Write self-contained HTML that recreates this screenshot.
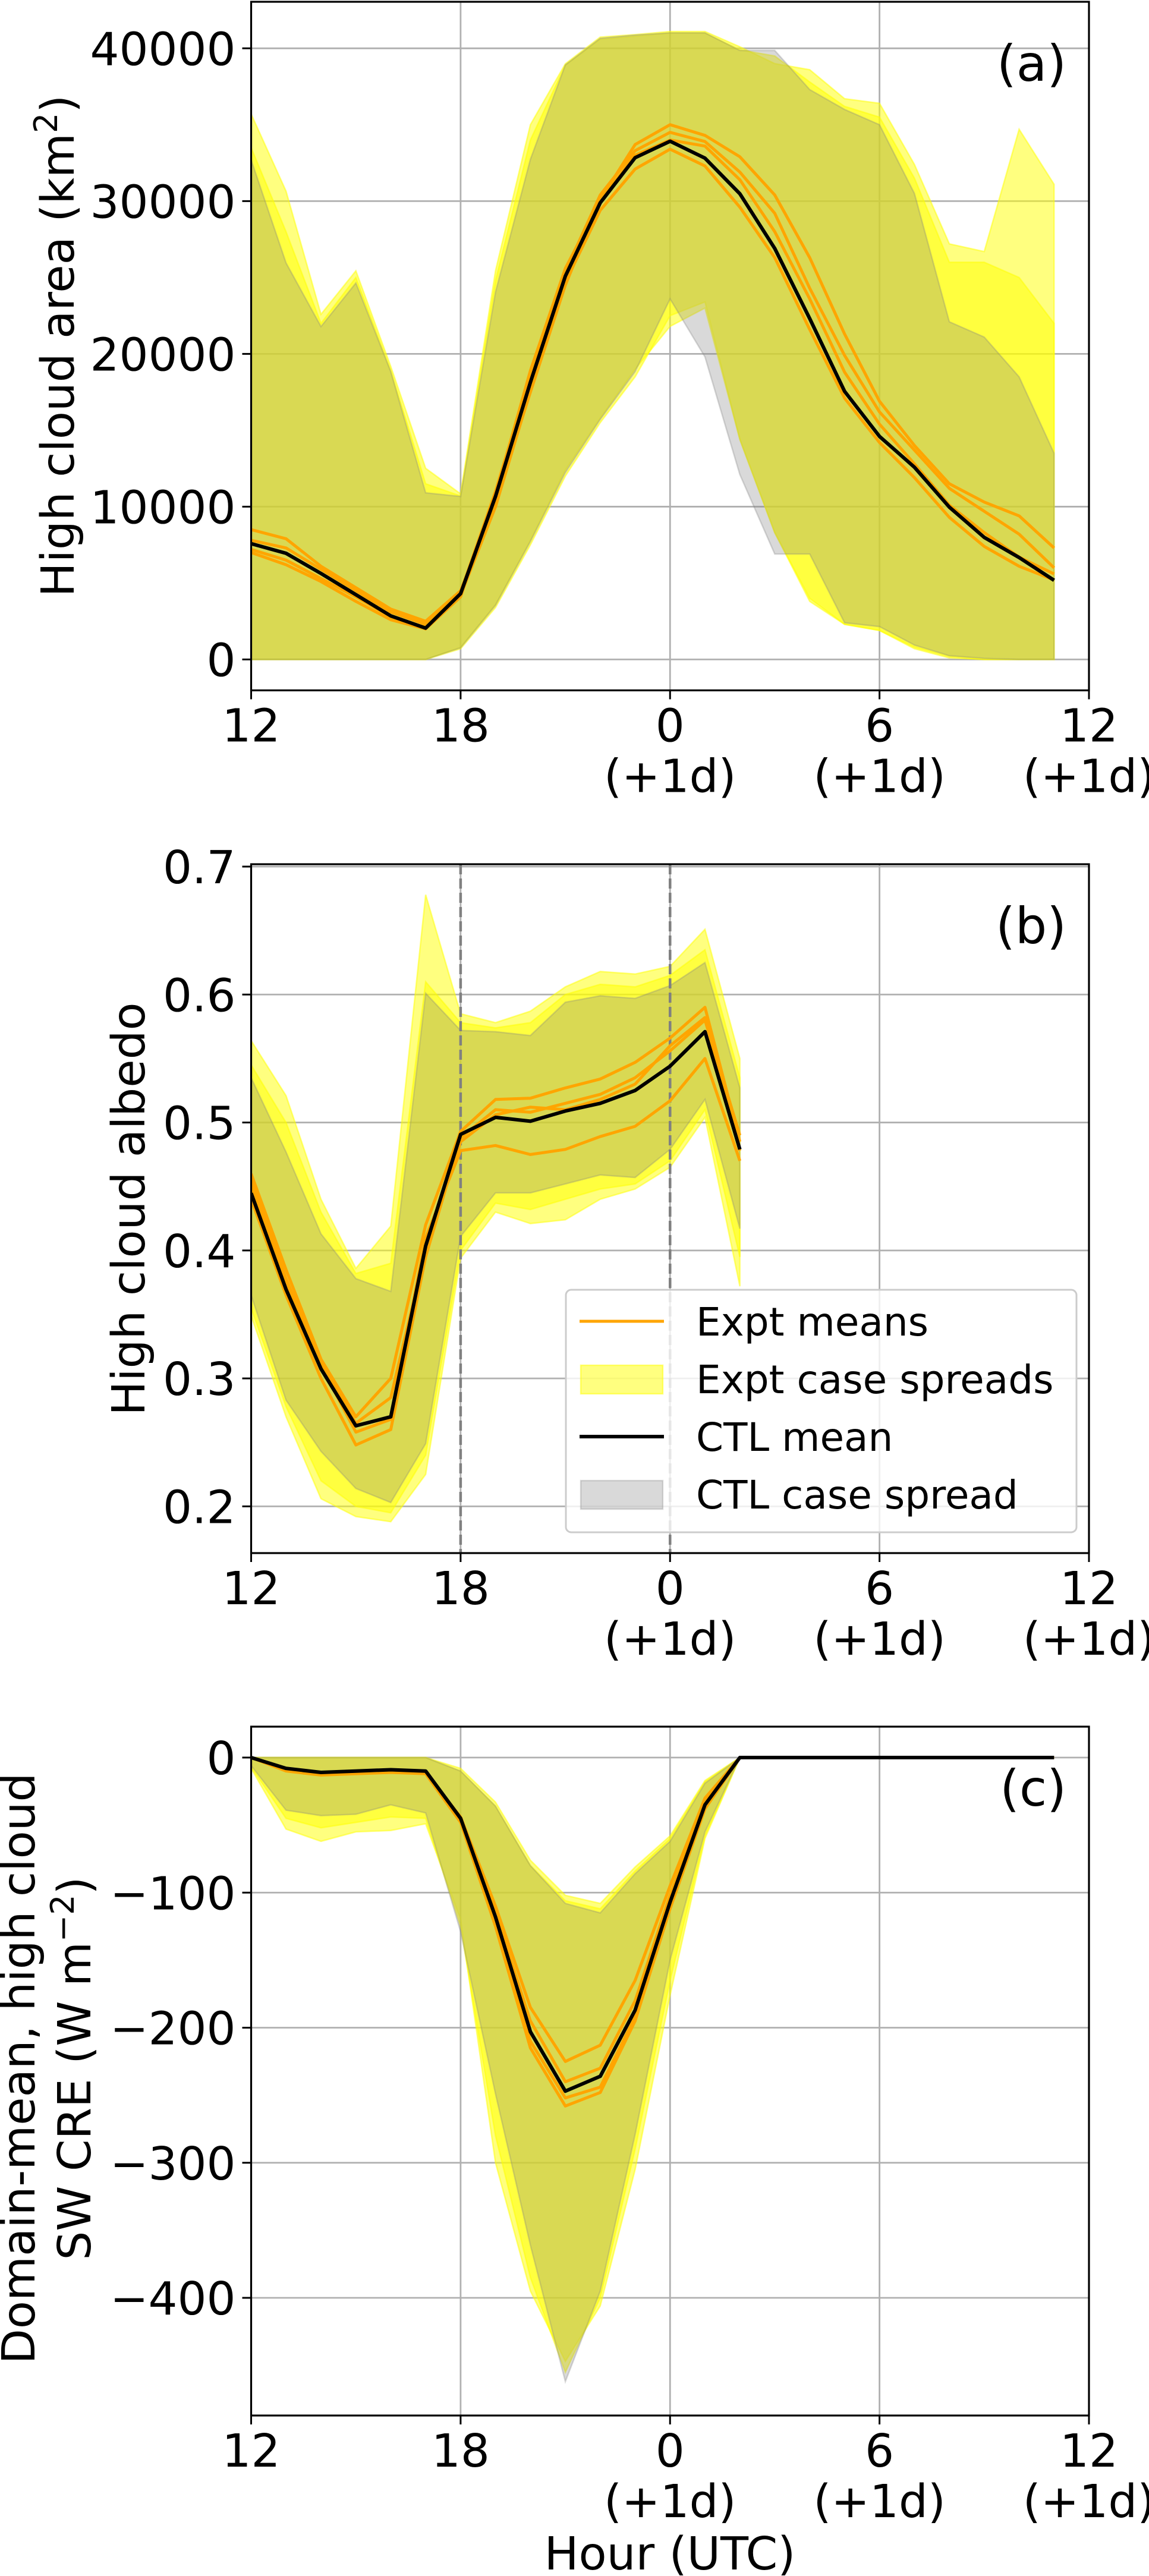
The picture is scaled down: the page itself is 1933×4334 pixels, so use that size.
<!DOCTYPE html>
<html><head><meta charset="utf-8"><style>
html,body{margin:0;padding:0;background:#fff}
svg{display:block}
text{font-family:"DejaVu Sans","Liberation Sans",sans-serif;fill:#000}
</style></head><body>
<svg id="fig" width="1933" height="4334" viewBox="0 0 1933 4334" xmlns="http://www.w3.org/2000/svg"></svg>
<script>
// ---------- data ----------
const hoursA = [12,13,14,15,16,17,18,19,20,21,22,23,24,25,26,27,28,29,30,31,32,33,34,35];
const hoursB = [12,13,14,15,16,17,18,19,20,21,22,23,24,25,26];
const xTickVals = [12,18,24,30,36];
const xTickLine1 = ["12","18","0","6","12"];
const xTickLine2 = ["","","(+1d)","(+1d)","(+1d)"];

const aCtlMean = [7580,6950,5630,4240,2850,2050,4310,10670,18140,25090,29890,32840,33920,32810,30480,26900,22310,17550,14600,12580,9970,7990,6670,5180];
const aCtlHi = [32700,25960,21790,24640,18840,10910,10670,24050,32740,38920,40660,40870,41010,41010,39860,39860,37300,36000,35000,30500,22100,21100,18500,13500];
const aCtlLo = [0,0,0,0,0,0,760,3540,7710,12230,15710,18840,23600,19800,12100,6900,6900,2400,2150,940,240,70,0,0];
const aE1Hi = [35700,30650,22590,25440,19180,12510,10840,25440,35000,38990,40730,40900,41100,41100,40100,39000,38600,36700,36400,32400,27200,26700,34700,31100];
const aE1Lo = [0,0,0,0,0,0,700,3400,7500,12000,15500,18500,22500,23400,14400,8300,4000,2300,1900,700,100,0,0,0];
const aE2Hi = [33500,28000,22000,25000,18900,11500,10700,24800,34000,38900,40600,40800,41000,41000,39900,39500,37800,36200,35500,31500,26000,26000,25000,22000];
const aE2Lo = [0,0,0,0,0,0,800,3600,7800,12400,15800,19000,21800,23000,14400,8300,3800,2300,1900,800,200,0,0,0];
const aO1 = [8500,7900,6100,4700,3300,2500,4500,10300,17500,24500,30100,33700,35000,34300,32900,30400,26300,21300,16900,14000,11500,10300,9400,7300];
const aO2 = [7800,7300,5900,4500,3100,2300,4400,11000,18600,25400,30400,33300,34500,33900,31900,29200,24300,19900,16200,13700,11200,9700,8200,6000];
const aO3 = [7200,6500,5300,4100,2800,2100,4200,10000,17600,24700,29400,32100,33400,32300,29600,26300,21600,17100,14200,11900,9300,7400,6100,5200];
const aO4 = [7000,6200,5100,3800,2600,2000,4100,10800,18900,25600,30000,33000,34000,33600,31400,28000,23600,18800,15400,12800,10100,8300,6700,5600];
const aYTicks = [0,10000,20000,30000,40000];
const aYTickLabels = ["0","10000","20000","30000","40000"];

const bCtlMean = [0.4448,0.3696,0.3075,0.263,0.270,0.4035,0.4907,0.504,0.501,0.509,0.515,0.525,0.544,0.571,0.479];
const bCtlHi = [0.535,0.477,0.413,0.378,0.368,0.601,0.572,0.571,0.568,0.594,0.599,0.597,0.607,0.625,0.527];
const bCtlLo = [0.365,0.283,0.243,0.214,0.203,0.249,0.411,0.445,0.445,0.452,0.459,0.457,0.479,0.518,0.417];
const bE1Hi = [0.564,0.521,0.440,0.386,0.419,0.678,0.585,0.578,0.587,0.606,0.618,0.616,0.622,0.651,0.550];
const bE1Lo = [0.349,0.270,0.206,0.192,0.188,0.225,0.394,0.430,0.421,0.424,0.440,0.448,0.465,0.504,0.372];
const bE2Hi = [0.545,0.500,0.430,0.382,0.390,0.610,0.578,0.574,0.578,0.600,0.608,0.606,0.615,0.635,0.535];
const bE2Lo = [0.355,0.278,0.220,0.200,0.195,0.240,0.400,0.437,0.432,0.440,0.448,0.452,0.470,0.510,0.395];
const bO1 = [0.460,0.385,0.315,0.270,0.300,0.420,0.493,0.518,0.519,0.527,0.534,0.547,0.566,0.590,0.485];
const bO2 = [0.450,0.372,0.310,0.258,0.268,0.410,0.478,0.482,0.475,0.479,0.489,0.497,0.517,0.550,0.470];
const bO3 = [0.440,0.365,0.300,0.248,0.260,0.395,0.488,0.510,0.508,0.515,0.522,0.535,0.556,0.580,0.490];
const bO4 = [0.455,0.378,0.312,0.265,0.285,0.400,0.485,0.506,0.512,0.510,0.518,0.530,0.560,0.582,0.478];
const bYTicks = [0.2,0.3,0.4,0.5,0.6,0.7];
const bYTickLabels = ["0.2","0.3","0.4","0.5","0.6","0.7"];
const bDashedHours = [18,24];

const cCtlMean = [0,-8,-11,-10,-9,-10,-45,-118,-203,-247,-236,-187,-107,-35,0,0,0,0,0,0,0,0,0,0];
const cCtlHi = [0,0,0,0,0,0,-10,-36,-80,-108,-115,-86,-62,-19,0,0,0,0,0,0,0,0,0,0];
const cCtlLo = [-6,-39,-43,-42,-35,-41,-129,-249,-361,-462,-395,-279,-150,-55,0,0,0,0,0,0,0,0,0,0];
const cE1Hi = [0,0,0,0,0,0,-8,-33,-76,-102,-108,-81,-58,-17,0,0,0,0,0,0,0,0,0,0];
const cE1Lo = [-8,-53,-62,-55,-54,-49,-120,-300,-395,-447,-406,-305,-176,-60,0,0,0,0,0,0,0,0,0,0];
const cE2Hi = [0,0,0,0,0,0,-10,-36,-80,-106,-112,-84,-60,-18,0,0,0,0,0,0,0,0,0,0];
const cE2Lo = [-7,-45,-52,-48,-44,-45,-125,-280,-385,-455,-400,-290,-165,-58,0,0,0,0,0,0,0,0,0,0];
const cO1 = [0,-10,-13,-12,-11,-12,-48,-125,-215,-258,-248,-195,-112,-38,0,0,0,0,0,0,0,0,0,0];
const cO2 = [0,-9,-12,-11,-10,-11,-44,-110,-185,-225,-213,-165,-95,-30,0,0,0,0,0,0,0,0,0,0];
const cO3 = [0,-9,-12,-11,-10,-11,-46,-120,-210,-252,-244,-192,-110,-36,0,0,0,0,0,0,0,0,0,0];
const cO4 = [0,-8,-11,-10,-9,-10,-45,-115,-195,-240,-230,-180,-102,-33,0,0,0,0,0,0,0,0,0,0];
const cYTicks = [-400,-300,-200,-100,0];
const cYTickLabels = ["\u2212400","\u2212300","\u2212200","\u2212100","0"];

// ---------- drawing ----------
const NS = "http://www.w3.org/2000/svg";
const svg = document.getElementById('fig');
function mk(tag, attrs, parent){
  const e = document.createElementNS(NS, tag);
  for (const k in attrs) e.setAttribute(k, attrs[k]);
  (parent||svg).appendChild(e);
  return e;
}
const L = 422.5, R = 1832;
function xs(h){ return L + (h-12)*(R-L)/24; }

function panel(cfg){
  const g = mk('g', {});
  
  
  const ys = v => cfg.y0px + (v-cfg.y0)*(cfg.y1px-cfg.y0px)/(cfg.y1-cfg.y0);
  const clipId = 'clip-'+cfg.name;
  const cp = mk('clipPath', {id:clipId}, g);
  mk('rect', {x:L, y:cfg.top, width:R-L, height:cfg.bottom-cfg.top}, cp);
  const grid = mk('g', {stroke:'#b0b0b0','stroke-width':2.8}, g);
  
  
  xTickVals.forEach(h => mk('line', {x1:xs(h), x2:xs(h), y1:cfg.top, y2:cfg.bottom}, grid));
  cfg.yTicks.forEach(v => mk('line', {x1:L, x2:R, y1:ys(v), y2:ys(v)}, grid));
  const plot = mk('g', {'clip-path':'url(#'+clipId+')'}, g);
  function band(hours, lo, hi, fill, op, stroke, name){
    let d = '';
    hours.forEach((h,i)=>{ d += (i?'L':'M') + xs(h).toFixed(1) + ',' + ys(hi[i]).toFixed(1); });
    for (let i=hours.length-1;i>=0;i--) d += 'L' + xs(hours[i]).toFixed(1) + ',' + ys(lo[i]).toFixed(1);
    d += 'Z';
    const p = mk('path', {d:d, fill:fill, 'fill-opacity':op, stroke:stroke, 'stroke-opacity':op, 'stroke-width':2.5}, plot);
    
    
  }
  function line(hours, vals, color, w, name){
    const pts = hours.map((h,i)=> xs(h).toFixed(1)+','+ys(vals[i]).toFixed(1)).join(' ');
    const p = mk('polyline', {points:pts, fill:'none', stroke:color, 'stroke-width':w, 'stroke-linejoin':'round'}, plot);
    
    
  }
  cfg.expBands.forEach((b,i)=> band(cfg.hours, b[0], b[1], '#ffff00', 0.5, '#ffff00', 'expt-spread-'+(i+1)));
  band(cfg.hours, cfg.ctlLo, cfg.ctlHi, '#808080', 0.3, '#808080', 'ctl-spread');
  if (cfg.dashed){
    cfg.dashed.forEach(h=>{
      const dl = mk('line', {x1:xs(h), x2:xs(h), y1:cfg.top, y2:cfg.bottom, stroke:'#808080', 'stroke-width':4.5, 'stroke-dasharray':'17,7'}, plot);
      
      
    });
  }
  cfg.expLines.forEach((v,i)=> line(cfg.hours, v, '#ffa500', 5, 'expt-mean-'+(i+1)));
  line(cfg.hours, cfg.ctlMean, '#000000', 6, 'ctl-mean-line');
  const sp = mk('rect', {x:L, y:cfg.top, width:R-L, height:cfg.bottom-cfg.top, fill:'none', stroke:'#000', 'stroke-width':3.2}, g);
  
  
  xTickVals.forEach((h,i)=>{
    mk('line', {x1:xs(h), x2:xs(h), y1:cfg.bottom, y2:cfg.bottom+15, stroke:'#000','stroke-width':3}, g);
    const t = mk('text', {x:xs(h), y:cfg.bottom+86, 'text-anchor':'middle', 'font-size':77}, g);
    
    
    t.textContent = xTickLine1[i];
    if (xTickLine2[i]){
      const t2 = mk('text', {x:xs(h), y:cfg.bottom+171, 'text-anchor':'middle', 'font-size':77}, g);
      
      
      t2.textContent = xTickLine2[i];
    }
  });
  cfg.yTicks.forEach((v,i)=>{
    mk('line', {x1:L-15, x2:L, y1:ys(v), y2:ys(v), stroke:'#000','stroke-width':3}, g);
    const t = mk('text', {x:L-26, y:ys(v)+28, 'text-anchor':'end', 'font-size':77}, g);
    
    
    t.textContent = cfg.yTickLabels[i];
  });
  const pl = mk('text', {x:1794, y:cfg.top+133, 'text-anchor':'end', 'font-size':84}, g);
  
  
  pl.textContent = cfg.letter;
  return g;
}

panel({name:'panel-a', letter:'(a)', top:3, bottom:1161.5, y0:0, y1:40000, y0px:1109.5, y1px:81.3,
  hours:hoursA, yTicks:aYTicks, yTickLabels:aYTickLabels, ctlMean:aCtlMean, ctlLo:aCtlLo, ctlHi:aCtlHi,
  expBands:[[aE1Lo,aE1Hi],[aE2Lo,aE2Hi]], expLines:[aO1,aO2,aO3,aO4]});
panel({name:'panel-b', letter:'(b)', top:1454, bottom:2613, y0:0.2, y1:0.7, y0px:2534.4, y1px:1458,
  hours:hoursB, yTicks:bYTicks, yTickLabels:bYTickLabels, ctlMean:bCtlMean, ctlLo:bCtlLo, ctlHi:bCtlHi,
  expBands:[[bE1Lo,bE1Hi],[bE2Lo,bE2Hi]], expLines:[bO1,bO2,bO3,bO4], dashed:bDashedHours});
panel({name:'panel-c', letter:'(c)', top:2905, bottom:4064, y0:0, y1:-400, y0px:2957, y1px:3866,
  hours:hoursA, yTicks:cYTicks, yTickLabels:cYTickLabels, ctlMean:cCtlMean, ctlLo:cCtlLo, ctlHi:cCtlHi,
  expBands:[[cE1Lo,cE1Hi],[cE2Lo,cE2Hi]], expLines:[cO1,cO2,cO3,cO4]});
</script>
<script>
(function(){
  const NS = "http://www.w3.org/2000/svg";
  const svg = document.getElementById('fig');
  const frag = `
  <text transform="translate(124,582) rotate(-90)" text-anchor="middle" font-size="77">High cloud area (km<tspan dy="-28" font-size="54">2</tspan><tspan dy="28">)</tspan></text>
  <text transform="translate(243,2034) rotate(-90)" text-anchor="middle" font-size="77">High cloud albedo</text>
  <text transform="translate(58,3480) rotate(-90)" text-anchor="middle" font-size="77">Domain-mean, high cloud</text>
  <text transform="translate(152,3480) rotate(-90)" text-anchor="middle" font-size="77">SW CRE (W m<tspan dy="-28" font-size="54">−2</tspan><tspan dy="28">)</tspan></text>
  <text x="1127" y="4323" text-anchor="middle" font-size="77">Hour (UTC)</text>
  <g>
    <rect x="952" y="2170" width="859" height="408" rx="9" fill="#ffffff" fill-opacity="0.8" stroke="#cccccc" stroke-width="3"/>
    <line x1="975" x2="1117" y1="2223" y2="2223" stroke="#ffa500" stroke-width="5"/>
    <text x="1171" y="2247" font-size="66">Expt means</text>
    <rect x="977" y="2297" width="138" height="48" fill="#ffff00" fill-opacity="0.5" stroke="#ffff00" stroke-opacity="0.5" stroke-width="2.5"/>
    <text x="1171" y="2344" font-size="66">Expt case spreads</text>
    <line x1="975" x2="1117" y1="2417" y2="2417" stroke="#000" stroke-width="6"/>
    <text x="1171" y="2441" font-size="66">CTL mean</text>
    <rect x="977" y="2491" width="138" height="48" fill="#808080" fill-opacity="0.3" stroke="#808080" stroke-opacity="0.3" stroke-width="2.5"/>
    <text x="1171" y="2538" font-size="66">CTL case spread</text>
  </g>`;
  const tmp = document.createElementNS(NS,'g');
  tmp.innerHTML = frag;
  while (tmp.firstChild) svg.appendChild(tmp.firstChild);
})();
</script>
</body></html>
